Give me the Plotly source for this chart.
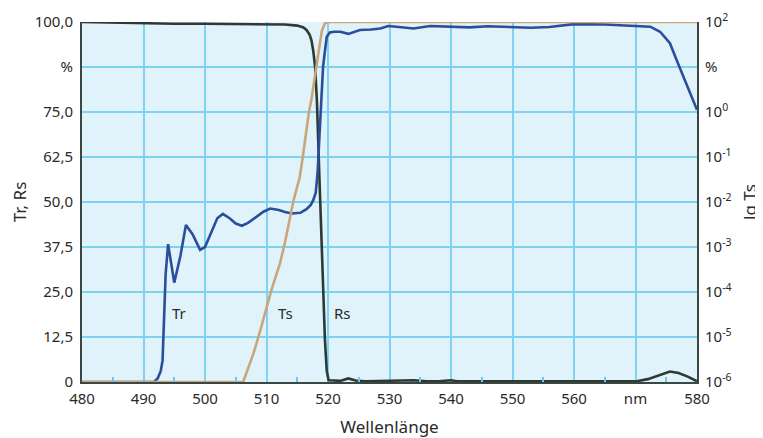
import plotly.graph_objects as go

# Wavelength grid / data
tr_nm = [480, 491.7, 492.3, 492.8, 493.1, 493.3, 493.6, 494.0, 495.0, 496.0, 496.9, 498.0, 499.2, 500.0,
         501.0, 502.0, 502.9, 504.0, 505.0, 506.0, 507.0, 508.5, 509.5, 510.6, 512.0, 513.0, 514.1,
         515.5, 516.5, 517.2, 517.6, 518.0, 518.3, 518.6, 518.9, 519.2, 519.5, 519.8, 520.3, 521.0,
         522.0, 523.3, 525.2, 527.0, 528.5, 529.8, 531.5, 533.9, 536.6, 540.0, 543.0, 546.0, 550.0,
         553.0, 556.0, 558.0, 560.0, 565.0, 570.0, 572.4, 574.0, 575.6, 576.7, 578.0, 580.0]
tr_val = [0, 0, 1.0, 3.0, 6.0, 15, 30, 38.3, 27.6, 35, 43.6, 41, 36.7, 37.5,
          41.5, 45.5, 46.7, 45.5, 44, 43.4, 44.2, 46, 47.3, 48.2, 47.8, 47.2, 46.8,
          47, 48, 49.2, 50.5, 52.5, 58, 68, 78, 87.6, 92, 95.9, 97.1, 97.3,
          97.3, 96.7, 97.8, 97.9, 98.2, 98.9, 98.6, 98.2, 98.9, 98.6, 98.5, 98.8, 98.6,
          98.4, 98.6, 98.9, 99.4, 99.3, 99.0, 98.7, 97.3, 94.1, 89.4, 84, 75.6]

rs_nm = [480, 485, 490, 495, 500, 505, 510, 513, 515, 516, 516.5, 517, 517.3, 517.6, 517.9, 518.2,
         518.6, 519.0, 519.2, 519.5, 519.8, 520.1, 521, 522, 523.3, 524.5, 526, 528, 530, 532, 534,
         536, 538, 540, 541, 543, 546, 550, 555, 560, 565, 570.2, 572, 574, 575.6, 577, 578.5, 580]
rs_val = [100, 99.8, 99.6, 99.5, 99.5, 99.5, 99.4, 99.3, 99.0, 98.5, 97.8, 96.5, 95, 92, 87.6, 78,
          57, 34, 23, 11.7, 3, 0.5, 0.4, 0.3, 1.0, 0.4, 0.2, 0.3, 0.2, 0.3, 0.5,
          0.2, 0.2, 0.5, 0.2, 0.2, 0.2, 0.2, 0.2, 0.2, 0.2, 0.2, 0.8, 2.0, 2.9, 2.5, 1.5, 0.2]

ts_nm = [480, 506.2, 507.0, 507.9, 509.0, 510.0, 510.8, 512.2, 513.0, 514.4, 515.4, 515.9,
         516.9, 517.3, 518.0, 518.6, 519.0, 519.5, 520.0, 580]
ts_lg = [-6, -6, -5.7, -5.36, -4.85, -4.35, -3.96, -3.36, -2.9, -1.96, -1.45, -1.0,
         0.0, 0.27, 0.95, 1.45, 1.8, 1.97, 2.0, 2.0]   # lg Ts (Ts in %)

x_ticks = [480, 490, 500, 510, 520, 530, 540, 550, 560, 570, 580]
x_labels = ["480", "490", "500", "510", "520", "530", "540", "550", "560", "nm", "580"]
y_ticks = [0, 12.5, 25, 37.5, 50, 62.5, 75, 87.5, 100]
y_labels = ["0", "12,5", "25,0", "37,5", "50,0", "62,5", "75,0", "%", "100,0"]
y2_ticks = [1e-6, 1e-5, 1e-4, 1e-3, 1e-2, 1e-1, 1e0, 1e1, 1e2]
y2_labels = ["10<sup>-6</sup>", "10<sup>-5</sup>", "10<sup>-4</sup>", "10<sup>-3</sup>",
             "10<sup>-2</sup>", "10<sup>-1</sup>", "10<sup>0</sup>", "%", "10<sup>2</sup>"]

ts_val = [10 ** v for v in ts_lg]

FONT = "Noto Sans"
TXT = "#2a2a2a"
GRID = "#7ed3f3"
AX = "#3a4745"

fig = go.Figure()
fig.add_trace(go.Scatter(x=rs_nm, y=rs_val, mode="lines", line=dict(color="#2c3a33", width=2.6),
                         yaxis="y", showlegend=False, hoverinfo="skip"))
fig.add_trace(go.Scatter(x=ts_nm, y=ts_val, mode="lines", line=dict(color="#c9a67a", width=2.6),
                         yaxis="y2", showlegend=False, hoverinfo="skip"))
fig.add_trace(go.Scatter(x=tr_nm, y=tr_val, mode="lines", line=dict(color="#2a4e9b", width=2.6),
                         yaxis="y", showlegend=False, hoverinfo="skip"))

for txt, xv in [("Tr", 495.8), ("Ts", 513.1), ("Rs", 522.4)]:
    fig.add_annotation(x=xv, y=19.3, xref="x", yref="y", text=txt, showarrow=False,
                       font=dict(family=FONT, size=15, color=TXT))

fig.update_layout(
    width=755, height=430,
    margin=dict(l=74, r=66, t=14, b=56),
    paper_bgcolor="white", plot_bgcolor="#e0f3fb",
    font=dict(family=FONT, size=15, color=TXT),
    xaxis=dict(range=[480, 580], tickmode="array", tickvals=x_ticks, ticktext=x_labels,
               showgrid=True, gridcolor=GRID, gridwidth=1.5, zeroline=False,
               showline=True, linecolor=AX, linewidth=2, ticks="", automargin=False,
               ticklabelstandoff=2,
               minor=dict(tickmode="array", tickvals=[485, 495, 505, 515, 525, 535, 545, 555, 565, 575],
                          ticks="inside", ticklen=5, tickcolor="#6cc8ee", tickwidth=1.5, showgrid=False),
               title=dict(text="Wellenlänge", font=dict(size=17), standoff=14),
               tickfont=dict(size=15)),
    yaxis=dict(range=[0, 100], tickmode="array", tickvals=y_ticks, ticktext=y_labels,
               showgrid=True, gridcolor=GRID, gridwidth=1.5, zeroline=False,
               showline=True, linecolor=AX, linewidth=2, ticks="", automargin=False,
               ticklabelstandoff=4,
               title=dict(text="Tr, Rs", font=dict(size=17), standoff=10),
               tickfont=dict(size=15)),
    yaxis2=dict(type="log", range=[-6, 2], overlaying="y", side="right",
                tickmode="array", tickvals=y2_ticks, ticktext=y2_labels,
                showgrid=False, zeroline=False, showline=True, linecolor=AX, linewidth=2,
                ticks="", automargin=False, ticklabelstandoff=3,
                title=dict(text="lg Ts", font=dict(size=17), standoff=14),
                tickfont=dict(size=15)),
)

fig.write_html("out.html")
